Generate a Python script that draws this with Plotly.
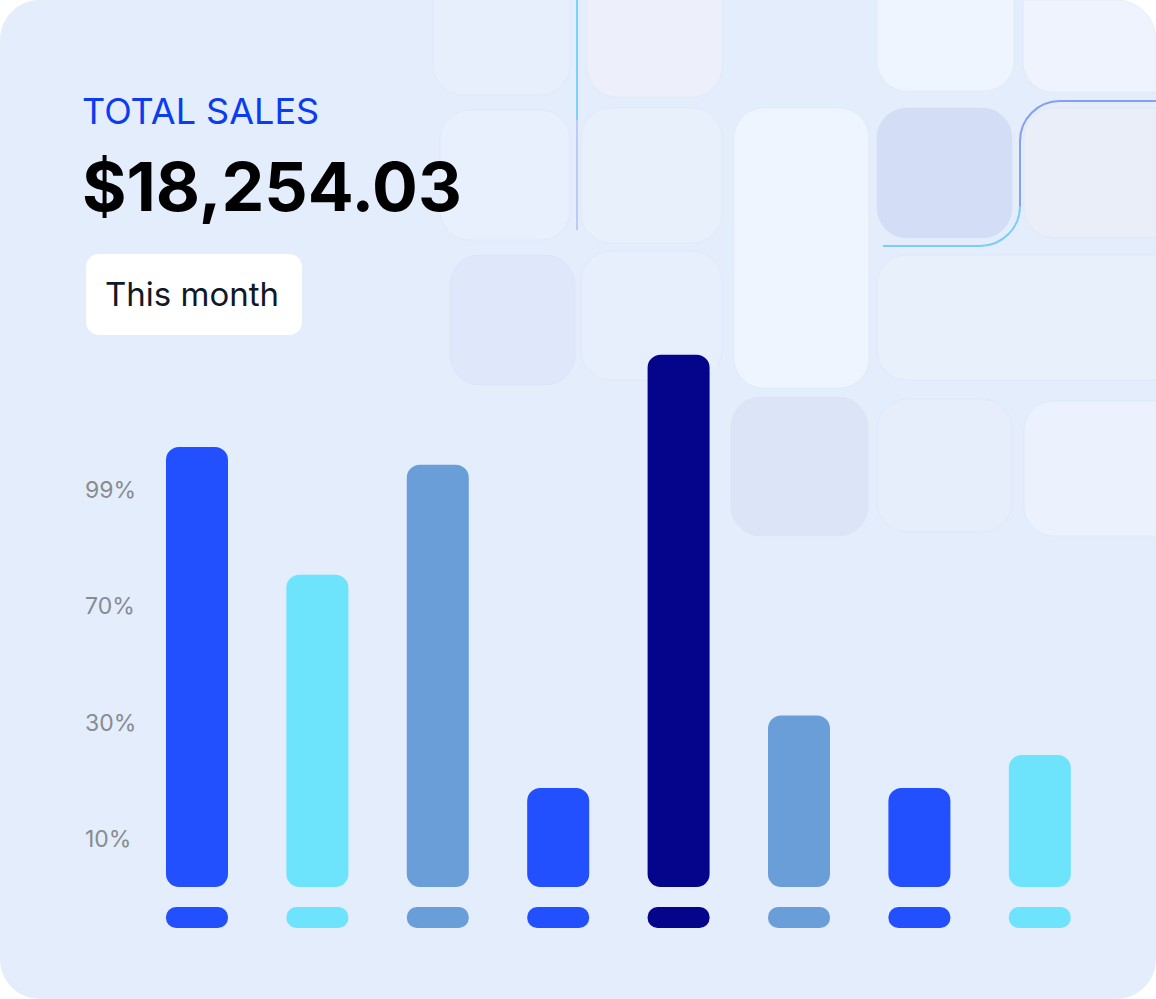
import plotly.graph_objects as go

W, H = 1156, 999

# ---------------- data ----------------
categories = ["P1", "P2", "P3", "P4", "P5", "P6", "P7", "P8"]
bar_values = [100, 71, 96, 22.5, 121, 39, 22.5, 30]
bar_colors = ["#2350FF", "#6DE3FC", "#6A9ED9", "#2350FF",
              "#05058C", "#6A9ED9", "#2350FF", "#6DE3FC"]
tick_vals = [10.9, 37.3, 63.9, 90.2]
tick_text = ["10%", "30%", "70%", "99%"]

title_text = "TOTAL SALES"
total_text = "$18,254.03"
period_text = "This month"

# ---------------- style constants ----------------
BAR_W = 0.515
PILL_TOP = -4.55
PILL_BOT = -9.32
Y_RANGE = [-25.45, 201.6]
X_RANGE = [-1.636, 7.965]

def P(x, y):
    return f"{x / W:.5f},{1 - y / H:.5f}"

def rr_path(x0, y0, x1, y1, radii):
    tl, tr, br, bl = radii
    k = 0.5523
    s = f"M {P(x0 + tl, y0)} L {P(x1 - tr, y0)} "
    s += f"C {P(x1 - tr + k * tr, y0)} {P(x1, y0 + tr - k * tr)} {P(x1, y0 + tr)} "
    s += f"L {P(x1, y1 - br)} "
    s += f"C {P(x1, y1 - br + k * br)} {P(x1 - br + k * br, y1)} {P(x1 - br, y1)} "
    s += f"L {P(x0 + bl, y1)} "
    s += f"C {P(x0 + bl - k * bl, y1)} {P(x0, y1 - bl + k * bl)} {P(x0, y1 - bl)} "
    s += f"L {P(x0, y0 + tl)} "
    s += f"C {P(x0, y0 + tl - k * tl)} {P(x0 + tl - k * tl, y0)} {P(x0 + tl, y0)} Z"
    return s

shapes = []
# card
shapes.append(dict(type="path", xref="paper", yref="paper", layer="below",
                   path=rr_path(0, 0, W, H, (40, 40, 40, 40)),
                   fillcolor="#E4EDFC", line=dict(width=0)))

R = 30
tiles = [
    (433, -60, 570, 95, (R, R, R, R), "rgba(236,242,253,0.45)"),
    (587, -60, 722, 97, (R, R, R, R), "#EDF0FA"),
    (877, -60, 1014, 91, (R, R, R, R), "#EFF5FE"),
    (1023, 0, W, 92, (0, 40, 0, R), "#EEF3FD"),
    (440, 110, 570, 240, (R, R, R, R), "rgba(236,242,253,0.55)"),
    (581, 108, 722, 243, (R, R, R, R), "#E8F0FC"),
    (734, 108, 869, 388, (R, R, R, R), "#EFF5FE"),
    (877, 108, 1012, 238, (R, R, R, R), "#D3DDF5"),
    (1024, 108, W, 238, (R, 0, 0, R), "#EAEEF8"),
    (450, 255, 575, 385, (R, R, R, R), "rgba(220,230,250,0.7)"),
    (581, 251, 722, 380, (R, R, R, R), "#E7EFFC"),
    (877, 255, W, 380, (R, 0, 0, R), "#E8F0FC"),
    (731, 397, 868, 536, (R, R, R, R), "#DCE5F8"),
    (877, 399, 1012, 532, (R, R, R, R), "#E6EEFC"),
    (1024, 401, W, 536, (R, 0, 0, R), "#EBF1FD"),
]
for x0, y0, x1, y1, radii, col in tiles:
    shapes.append(dict(type="path", xref="paper", yref="paper", layer="below",
                       path=rr_path(x0, y0, x1, y1, radii),
                       fillcolor=col, line=dict(color="rgba(210,220,240,0.3)", width=1)))

# decorative glowing lines
shapes.append(dict(type="path", xref="paper", yref="paper", layer="below",
                   path=f"M {P(577, 0)} L {P(577, 120)}",
                   line=dict(color="rgba(110,205,250,0.9)", width=2)))
shapes.append(dict(type="path", xref="paper", yref="paper", layer="below",
                   path=f"M {P(577, 120)} L {P(577, 230)}",
                   line=dict(color="rgba(140,160,240,0.45)", width=2)))
k = 0.5523
r = 40
path1 = (f"M {P(1156, 101)} L {P(1020 + r, 101)} "
         f"C {P(1020 + r - k * r, 101)} {P(1020, 101 + r - k * r)} {P(1020, 101 + r)} "
         f"L {P(1020, 246 - r)}")
path2 = (f"M {P(1020, 246 - r)} "
         f"C {P(1020, 246 - r + k * r)} {P(1020 - r + k * r, 246)} {P(1020 - r, 246)} "
         f"L {P(883, 246)}")
shapes.append(dict(type="path", xref="paper", yref="paper", layer="below",
                   path=path1, line=dict(color="rgba(125,150,240,0.9)", width=2)))
shapes.append(dict(type="path", xref="paper", yref="paper", layer="below",
                   path=path2, line=dict(color="rgba(110,200,250,0.9)", width=2)))

# "This month" chip
shapes.append(dict(type="path", xref="paper", yref="paper", layer="below",
                   path=rr_path(86, 254, 302, 335, (13, 13, 13, 13)),
                   fillcolor="#FFFFFF", line=dict(width=0)))

fig = go.Figure()
n = len(categories)

# main bars
fig.add_trace(go.Bar(x=categories, y=bar_values, base=[0] * n, width=BAR_W,
                     marker=dict(color=bar_colors, cornerradius=13, line=dict(width=0)),
                     hoverinfo="skip"))
# pills under each bar
fig.add_trace(go.Bar(x=categories, y=[PILL_TOP - PILL_BOT] * n, base=[PILL_BOT] * n,
                     width=BAR_W,
                     marker=dict(color=bar_colors, cornerradius=10, line=dict(width=0)),
                     hoverinfo="skip"))

annotations = [
    dict(text=title_text, x=80 / W, y=1 - 111 / H, xref="paper", yref="paper",
         xanchor="left", yanchor="middle", showarrow=False,
         font=dict(family="Inter", size=36, color="#0B3CF0")),
    dict(text=f"<b>{total_text}</b>", x=80 / W, y=1 - 186 / H, xref="paper", yref="paper",
         xanchor="left", yanchor="middle", showarrow=False,
         font=dict(family="Inter", size=68, color="#000000")),
    dict(text=period_text, x=103 / W, y=1 - 294 / H, xref="paper", yref="paper",
         xanchor="left", yanchor="middle", showarrow=False,
         font=dict(family="Inter", size=33, color="#111827")),
]

fig.update_layout(
    width=W, height=H,
    margin=dict(l=0, r=0, t=0, b=0),
    paper_bgcolor="#FFFFFF",
    plot_bgcolor="rgba(0,0,0,0)",
    showlegend=False,
    barmode="overlay",
    shapes=shapes,
    annotations=annotations,
    xaxis=dict(type="category", range=X_RANGE, visible=False, fixedrange=True),
    yaxis=dict(range=Y_RANGE, tickvals=tick_vals, ticktext=tick_text,
               ticklabelposition="inside", ticklabelstandoff=82, ticks="",
               showgrid=False, zeroline=False, showline=False, fixedrange=True,
               tickfont=dict(family="Inter", size=23, color="#878B92")),
)

fig.write_html("out.html")
